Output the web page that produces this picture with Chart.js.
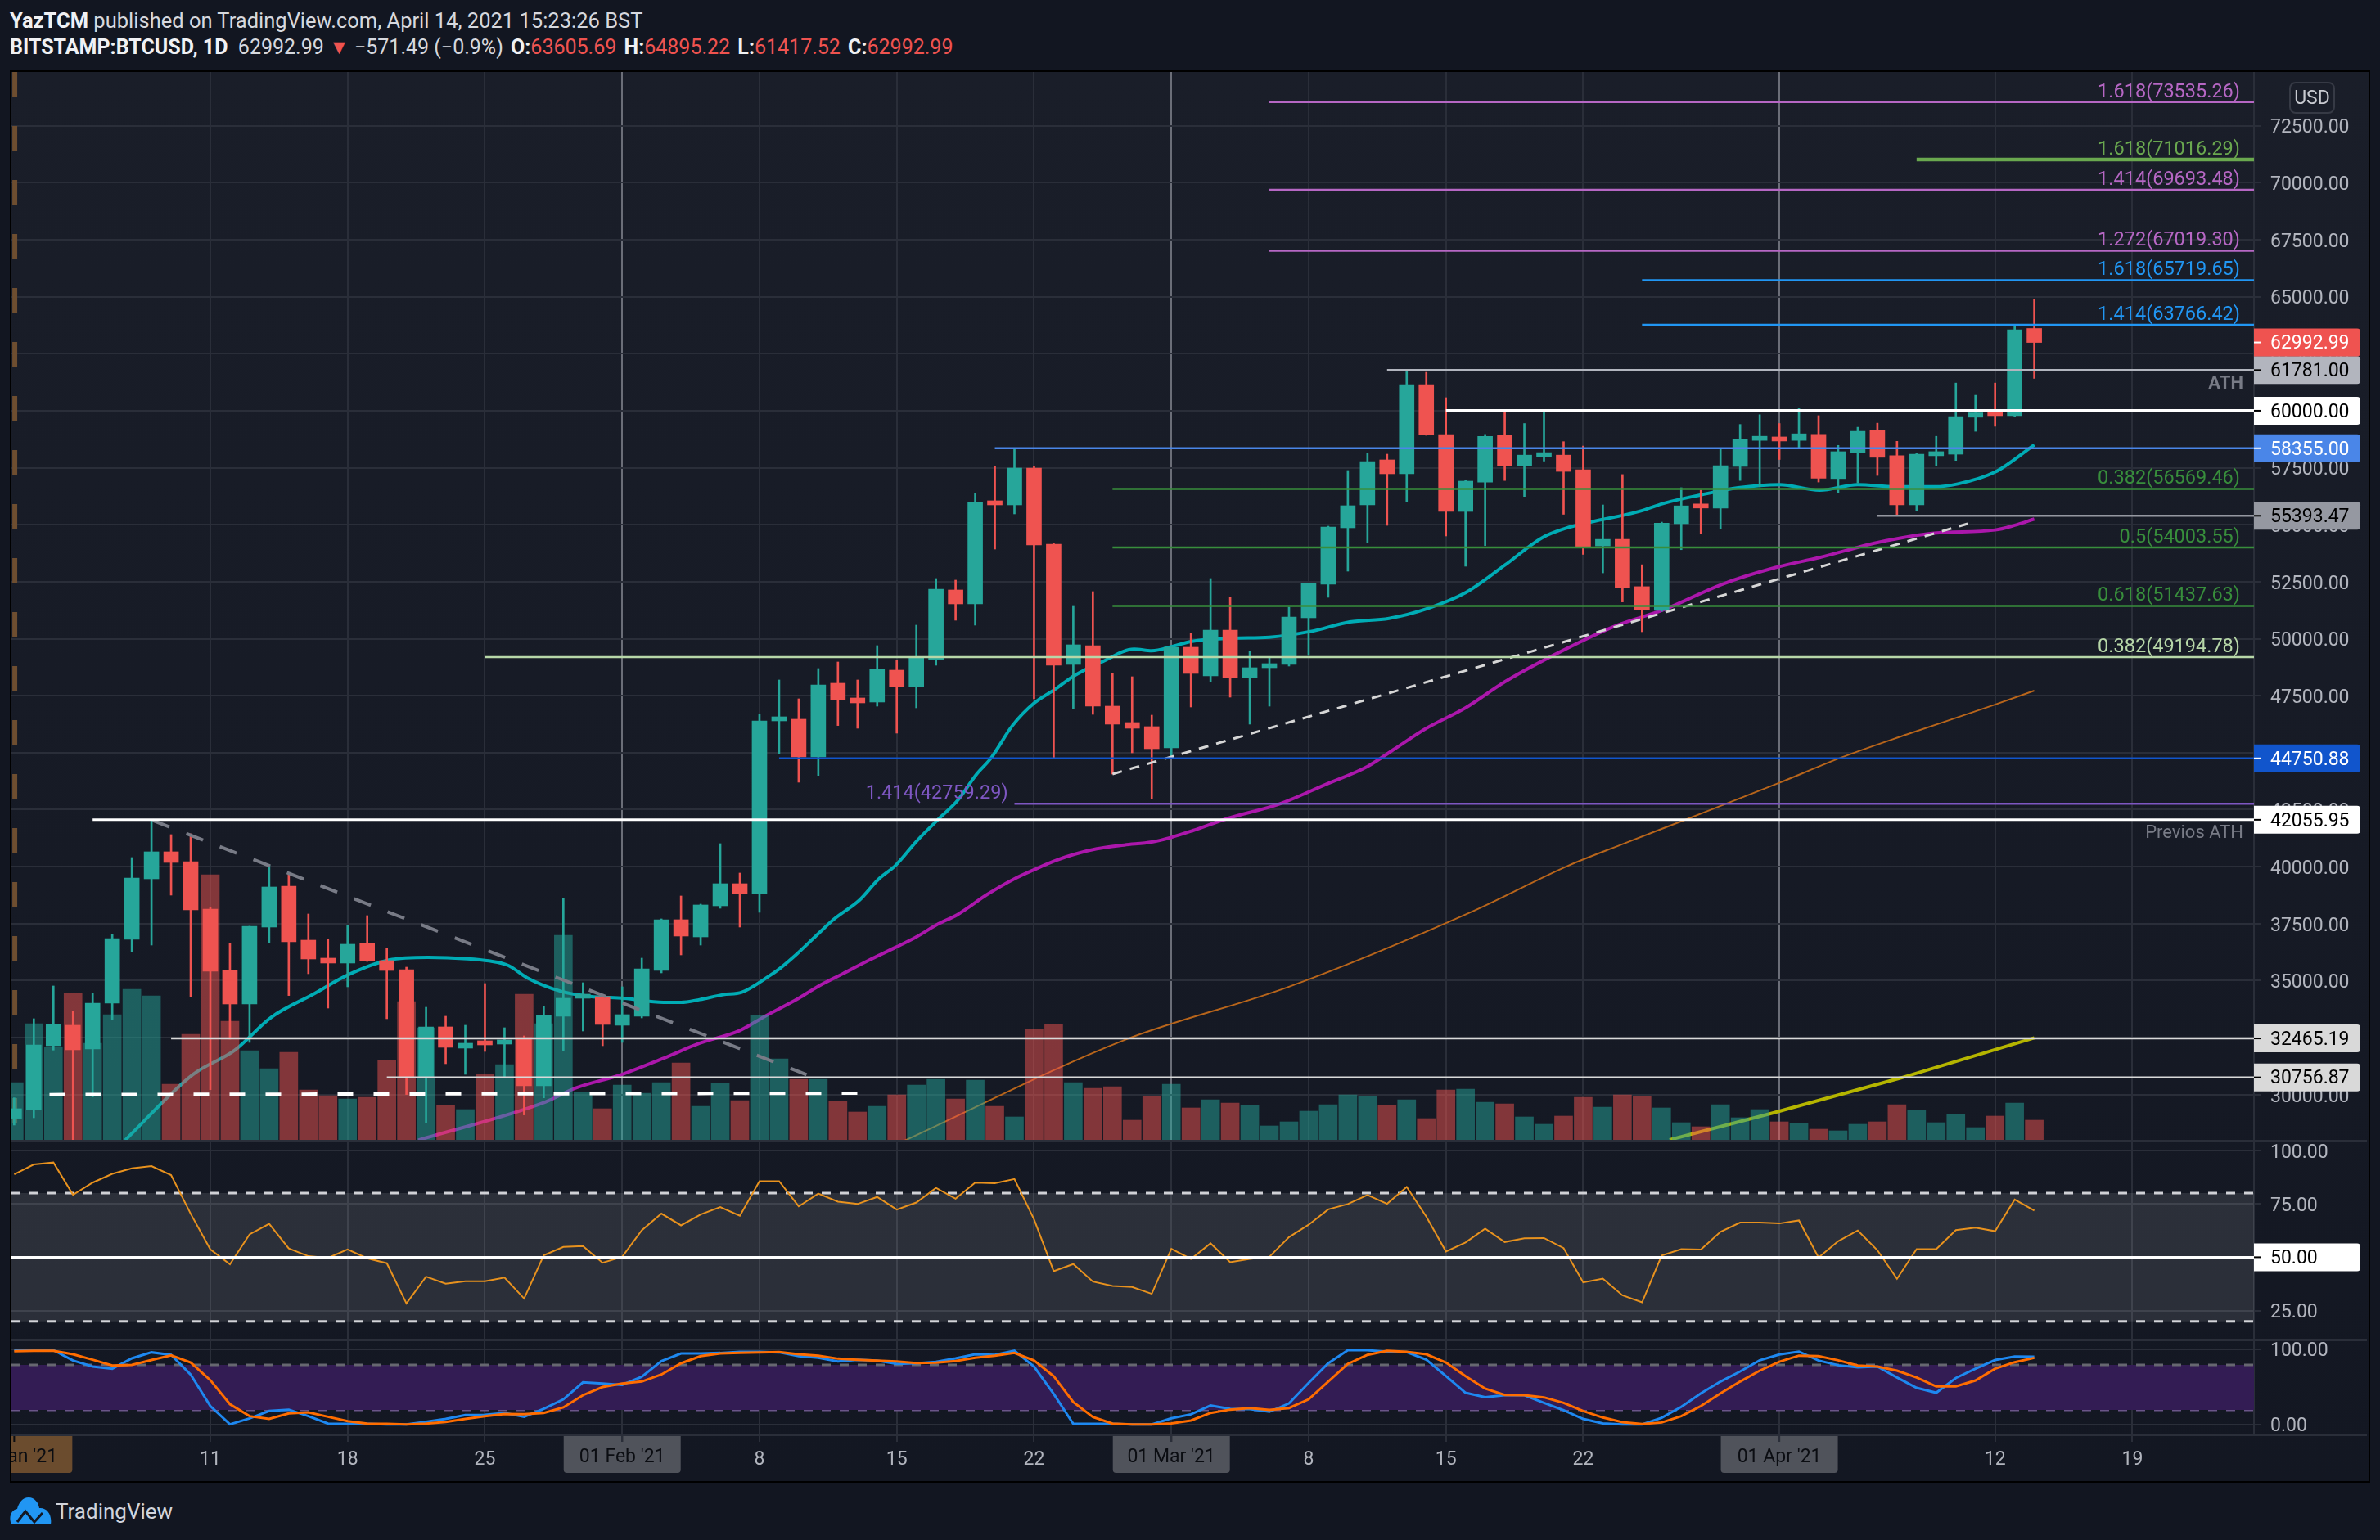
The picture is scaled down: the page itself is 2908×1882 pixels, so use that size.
<!DOCTYPE html>
<html>
<head>
<meta charset="utf-8">
<title>BTCUSD daily</title>
<script src="https://cdn.jsdelivr.net/npm/chart.js@4"></script>
<style>
  html, body { margin: 0; padding: 0; background: #121621; width: 2908px; height: 1882px; overflow: hidden;
               font-family: Roboto, sans-serif; color: #d6d8de; }
  #frame { position: absolute; left: 12px; top: 86px; width: 2880px; height: 1722px; border: 2px solid #000;
           background: linear-gradient(#1a1e29, #131722); }
  canvas { position: absolute; left: 14px; }
  .rule { position: absolute; left: 14px; width: 2878px; height: 3px; background: #2a2e39; }
  .head { position: absolute; left: 12px; font-size: 25.5px; white-space: nowrap; line-height: 30px; }
  .head b { color: #f0f1f4; font-weight: 700; }
  .head i { font-style: normal; color: #ef5350; }
  .head.stats { font-size: 25px; }
  .head.stats b { margin-left: 3px; }
  #usd { position: absolute; left: 2797px; top: 100px; width: 52px; height: 35px; line-height: 35px; text-align: center;
         border: 2px solid #363a45; border-radius: 8px; font-size: 23px; color: #c8cad0; }
  #brand { position: absolute; left: 68px; top: 1832px; font-size: 26px; line-height: 30px; color: #d1d4dc; }
</style>
</head>
<body>
<div id="frame"></div>
<canvas id="mainPane" width="2878" height="1306" style="top:88px"></canvas>
<canvas id="rsiPane" width="2878" height="243" style="top:1394px"></canvas>
<canvas id="stochPane" width="2878" height="171" style="top:1637px"></canvas>
<div class="rule" style="top:1393px"></div>
<div class="rule" style="top:1636px"></div>
<div class="rule" style="top:1752px"></div>

<div class="head" style="top:10px"><b>YazTCM</b> published on TradingView.com, April 14, 2021 15:23:26 BST</div>
<div class="head stats" style="top:43px"><b style="margin-left:0">BITSTAMP:BTCUSD, 1D</b>&nbsp; 62992.99 <i>▼</i> −571.49 (−0.9%) <b>O:</b><i>63605.69</i> <b>H:</b><i>64895.22</i> <b>L:</b><i>61417.52</i> <b>C:</b><i>62992.99</i></div>
<div id="usd">USD</div>
<svg style="position:absolute;left:12px;top:1830px" width="52" height="33" viewBox="0 0 52 33">
  <path d="M2 33 C-2 24 2 15 9 14 C11 6 16 0 23 0 C30 0 35 6 36 13 C45 12 52 21 50 33 Z" fill="#2196f3"/>
  <path d="M9 30 L19 17 L30 30 L40 19" fill="none" stroke="#131722" stroke-width="3"/>
</svg>
<div id="brand">TradingView</div>

<script>
// Jan 1 2021 is day 0, every array below is indexed by day
const opens = [28963,29346,32145,33043,32002,34012,36811,39467,40652,40221,38139,35447,33976,37350,39144,36775,35986,35771,36632,35878,35483,30758,32971,32038,32289,32217,32504,30387,33438,34227,34299,33043,33438,35447,37673,36919,38283,39252,38821,46395,46467,44816,48046,47400,47221,48620,47903,49087,52138,51528,55978,55871,57486,54148,48872,49697,47041,46323,46144,45211,49625,48369,50379,48297,48728,48872,50918,52389,54866,55871,57845,57235,61147,58957,55583,56873,58919,57587,57985,58054,57408,54071,54359,52285,51241,55046,55801,55733,57559,58700,58782,58700,58961,57024,58164,59139,58027,55870,58027,58095,59716,59908,59785,63605.69];
const highs = [29860,33330,34766,33653,34466,37027,40401,42004,41406,41441,38235,36632,37386,40078,39695,37924,36811,37421,37852,36417,35591,33832,33438,33043,34873,32935,32576,33868,38606,34909,34347,34730,35986,37709,38714,38355,41011,39719,46670,48190,47364,48692,48979,48190,49697,49051,50595,52640,52569,56373,57558,58347,57558,54184,51456,52066,48477,48333,46646,49661,50236,52640,51815,49446,49159,51384,52425,54937,57378,58132,58096,61790,61685,60573,56935,58961,59922,59441,59963,58645,58452,55870,57202,53246,55115,56625,56516,58342,59400,59826,59441,60101,59785,58480,59277,59455,58658,58136,58878,61213,60678,61213,63727,64895.22];
const lows = [28664,28987,31954,27900,29896,33306,36285,36560,38750,34275,30219,32433,32289,36680,34347,35304,33796,34730,35842,33330,30004,28748,31356,30889,31894,30758,29107,29860,31942,32791,32145,32289,33366,35340,36129,36560,38175,37350,37996,44971,43703,44002,46192,46072,47041,45857,46969,48836,50810,50595,53932,55476,47364,44780,46934,46682,44062,44995,42985,44756,47005,48118,47436,46252,47041,48800,49267,51815,52963,54220,54973,56014,58921,54507,53179,54084,56941,56241,57793,55458,53700,52889,51612,50307,51200,53906,54620,54826,56941,56667,57862,58370,56873,56406,56832,57161,55417,55623,57587,57821,59098,59318,59744,61417.52];
const closes = [29382,32181,33079,31966,34012,36847,39503,40652,40185,38103,35412,33976,37386,39108,36704,35950,35771,36596,35878,35447,30758,32971,32074,32253,32181,32397,30387,33473,34227,34299,33079,33509,35519,37673,36955,38319,39252,38821,46395,46503,44816,47974,47328,47185,48656,47903,49195,52174,51528,55978,55871,57486,54112,48836,49733,47041,46252,46072,45175,49625,48477,50379,48297,48728,48872,50953,52425,54902,55835,57773,57235,61147,58957,55583,56912,58878,57587,58054,58136,57340,54043,54359,52244,51268,55073,55829,55733,57587,58741,58782,58672,58988,57038,58205,59098,57958,55870,58095,58082,59744,59908,59785,63548,62992.99];
// volume, in hundreds of BTC-ish units
const volumes = [71,143,114,180,119,154,185,177,69,130,325,146,110,88,108,62,55,51,53,98,170,138,43,38,81,93,179,143,251,59,39,68,58,71,95,42,70,49,153,100,75,75,48,35,42,56,68,75,51,74,42,29,136,142,71,64,66,25,54,69,40,50,46,43,18,23,36,44,56,54,43,50,27,62,63,47,45,29,20,30,53,41,56,54,40,22,17,44,28,38,23,21,14,12,20,23,44,37,22,32,16,30,46,25];

const ma20Days = [5.66,9.1,11.25,13.1,15.25,17,19.1,21.1,23.1,24.2,25.2,26.15,27.9,29.35,31.1,33.1,34,34.95,36.15,37.1,38.5,39.05,39.9,40.9,41.8,43.1,44.05,44.95,46,47.1,48.1,49.05,49.8,50.9,52,53.05,54.1,55.5,57.1,58,59.05,60,62.1,64,66.1,68.1,70.1,72.1,74,76,77.9,79.1,82.9,84.1,86,87.9,90,92.05,94,95.9,97.9,99.1,101,103];
const ma20Prices = [28005,30877,31954,33390,34407,35244,35902,36022,35962,35866,35663,35125,34526,34311,34227,34048,34048,34168,34383,34490,35208,35543,36166,36979,37697,38534,39432,40066,41107,42064,42901,44038,44756,46192,47173,47771,48405,49003,49542,49470,49661,49877,50020,50068,50319,50738,50893,51336,52018,53225,54428,54840,55595,55939,56310,56625,56763,56515,56763,56667,56667,56790,57312,58507];
const ma50Days = [20.6,27.1,28.6,30.95,33.1,34.95,37,38.3,40,40.9,42.25,43.6,44.95,46,47.1,48.1,49.6,51,52.05,53.1,54.05,55.2,56.6,58,59,60.1,61.9,64.5,66.9,69,70.4,72,74,76,78.8,81.7,84.1,87.1,89.8,92.05,95,97.9,101,102,103];
const ma50Prices = [28005,29681,30279,30877,31595,32253,32815,33449,34227,34706,35304,35902,36464,36919,37481,37900,38774,39468,39886,40269,40544,40784,40951,41083,41286,41585,42124,42746,43619,44397,45175,46072,46969,48109,49414,50581,51268,52395,53123,53562,54222,54634,54771,54977,55252];
const ma200Days = [45.4,56.6,65,74.4,79.2,82,85.4,90,93.2,96.5,100.9,103];
const ma200Prices = [27981,32392,34733,38056,40030,40987,42124,43679,44800,45800,47079,47724];
const ma100Days = [84.4,89.7,96.2,103];
const ma100Prices = [28018,29203,30734,32493];

const levelPrices = [73535.26,71016.29,69693.48,67019.30,65719.65,63766.42,61781,60000,58355,56569.46,55393.47,54003.55,51437.63,49194.78,44750.88,42759.29,42055.95,32465.19,30756.87];
const levelStartDays = [64,97,64,64,83,83,70,73,50,56,95,56,56,24,39,51,4,8,19];
const levelRatios = ['1.618','1.618','1.414','1.272','1.618','1.414','','','','0.382','','0.5','0.618','0.382','','','','',''];
const tagPrices = [61781,60000,58355,55393.47,44750.88,42055.95,32465.19,30756.87,62992.99];

const rsiValues = [88.8,93.4,94.3,79.2,84.9,89.0,91.6,92.6,88.4,70.3,53.7,46.7,60.7,65.6,54.1,50.5,49.7,53.7,49.5,47.2,28.4,40.9,37.6,38.8,38.8,40.5,30.7,50.9,54.8,55.2,47.4,50.2,62.6,70.4,64.9,70.0,73.5,69.4,85.6,85.6,73.8,79.8,76.0,74.9,78.2,72.3,75.6,82.4,77.4,84.9,84.6,86.6,67.7,43.5,46.8,38.6,36.6,36.1,32.9,53.9,49.2,56.5,47.7,49.2,50.2,59.4,65.2,72.4,74.9,79.1,75.0,82.9,69.0,52.7,56.9,63.4,57.1,58.9,59.0,54.3,38.2,40.0,32.2,28.9,50.8,53.8,53.6,61.9,66.2,66.2,65.8,67.2,49.9,57.5,62.5,53.3,39.9,53.8,53.8,62.7,63.8,62.2,77.0,71.8];
const stochK = [98.6,98.6,98.6,84.8,76.8,73.9,87.7,95.7,92.4,65.9,24.3,0,8.0,17.8,19.6,10.9,1.1,0.7,0.7,0,0,3.6,7.2,12.3,12.7,15.2,10.1,20.7,33.3,55.8,54.3,52.5,63.4,84.1,94.2,94.2,94.9,96.4,96.4,95.7,90.6,88.4,83.7,85.9,84.8,80.4,81.2,83.0,87.7,93.1,92.4,97.8,76.8,40.6,0.7,0.7,0.7,0,0,8.0,13.4,25.0,20.7,20.3,16.7,27.9,55.1,81.2,98.6,98.6,96.4,96.0,85.9,64.1,42.0,36.2,38.8,38.8,28.6,18.8,7.2,1.4,0,0,8.7,23.2,41.3,56.9,70.3,85.1,92.8,96.7,84.8,78.6,75.7,76.8,62.3,48.6,42.0,61.6,73.9,85.5,90.2,89.9];
const stochD = [97.1,97.8,97.8,93.1,85.9,78.3,79.0,85.5,91.7,82.2,58.7,26.8,10.9,7.2,14.5,15.9,10.1,4.3,1.1,0.7,0,1.1,3.3,7.2,10.9,13.8,13.4,15.2,22.5,38.8,49.6,54.3,56.9,66.3,81.2,90.6,94.2,94.9,95.7,96.0,93.1,91.3,87.3,85.9,84.8,83.7,81.5,81.9,84.1,88.4,91.3,94.9,84.8,64.1,29.7,9.8,1.1,0,0,1.4,5.1,15.2,19.6,21.7,19.2,21.7,33.3,56.9,80.4,92.4,97.8,96.4,93.1,82.2,64.1,47.5,39.1,38.8,35.9,28.6,17.8,9.1,2.9,0.4,2.5,10.9,24.3,41.3,56.9,71.4,83.3,91.3,90.6,85.1,78.3,76.8,71.4,62.3,50.4,50.4,58.3,73.9,82.6,88.4];

const priceTicks = [30000,32500,35000,37500,40000,42500,45000,47500,50000,52500,55000,57500,60000,62500,65000,67500,70000,72500];
const rsiTicks = [25,50,75,100];
const stochTicks = [0,100];
const tickDays = [0,10,17,24,31,38,45,52,59,66,73,80,90,101,108];
const tickLabels = ['','11','18','25','','8','15','22','','8','15','22','','12','19'];
const monthDays = [0,31,59,90];
const monthLabels = ["Jan '21","01 Feb '21","01 Mar '21","01 Apr '21"];

// styles, kept apart from the data
const UP = '#26a69a', DOWN = '#ef5350';
const FAINT = '#2a2e39';
const PURPLE = '#b667c4', BLUE = '#2196f3', GREEN = '#388e3c';
const levelColors = [PURPLE,'#6aa84f',PURPLE,PURPLE,BLUE,BLUE,'#b2b5be','#ffffff','#4a86e8',GREEN,'#9598a1',GREEN,GREEN,'#b7d7a8','#1155cc','#7e57c2','#ffffff','#d9d9d9','#d9d9d9'];
const levelWidths = [2.5,4.5,2.5,2.5,2.5,2.5,2.5,4,2.5,2.5,2.5,2.5,2.5,2.5,2.5,2.5,3,2.5,2.5];
const tagFills = ['#b2b5be','#ffffff','#4a86e8','#9598a1','#1155cc','#ffffff','#d9d9d9','#d9d9d9',DOWN];
const tagInk = ['#000','#000','#fff','#000','#fff','#000','#000','#000','#fff'];
const FONT = 'Roboto, sans-serif';
const X_MIN = -0.14, X_MAX = 114.2, AXIS_W = 138;

const days = opens.map((_, i) => i);
const candleColor = days.map(i => closes[i] >= opens[i] ? UP : DOWN);
const volumeColor = days.map(i => closes[i] >= opens[i] ? 'rgba(38,166,154,0.5)' : 'rgba(239,83,80,0.5)');
const zip = (xs, ys) => xs.map((x, i) => ({ x, y: ys[i] }));

function xAxis(bright) {
  return {
    type: 'linear', min: X_MIN, max: X_MAX, offset: false,
    afterBuildTicks: s => { s.ticks = tickDays.map(value => ({ value })); },
    afterFit: s => { s.height = 0; s.paddingLeft = s.paddingRight = 0; },
    border: { display: false },
    ticks: { display: false },
    grid: {
      offset: false, drawTicks: false, lineWidth: 2,
      color: c => {
        if (c.tick.value === 0) return 'transparent';
        return bright && monthDays.includes(c.tick.value) ? '#6b6e78' : FAINT;
      },
    },
  };
}

function yAxis(min, max, tickValues) {
  return {
    position: 'right', min, max,
    afterBuildTicks: s => { s.ticks = tickValues.map(value => ({ value })); },
    afterFit: s => { s.width = AXIS_W; s.paddingTop = s.paddingBottom = 0; },
    border: { color: FAINT, width: 2 },
    grid: { color: FAINT, lineWidth: 2, tickLength: 9 },
    ticks: { display: false },
  };
}

// Chart.js centres y tick text a few px too high for this look, so the labels are put in by hand
const axisLabels = {
  id: 'axisLabels',
  afterDraw(chart) {
    const { ctx, chartArea, scales } = chart;
    ctx.save();
    ctx.font = '23px ' + FONT;
    ctx.fillStyle = '#b2b5be';
    ctx.textAlign = 'left';
    ctx.textBaseline = 'middle';
    scales.y.ticks.forEach(t => {
      ctx.fillText(t.value.toFixed(2), chartArea.right + 20, scales.y.getPixelForValue(t.value) + 3);
    });
    ctx.restore();
  },
};

function line(data, color, width, order, extra) {
  return Object.assign({
    type: 'line', data, borderColor: color, borderWidth: width, order,
    pointRadius: 0, fill: false, tension: 0, yAxisID: 'y',
  }, extra);
}

// coloured price tag on the axis, same look for main and RSI pane
function drawTag(ctx, chart, y, text, fill, ink) {
  const left = chart.chartArea.right;
  ctx.fillStyle = fill;
  ctx.beginPath();
  ctx.roundRect(left, y - 17, 130, 34, [0, 4, 4, 0]);
  ctx.fill();
  ctx.fillStyle = ink;
  ctx.fillRect(left, y - 1, 9, 2);
  ctx.textAlign = 'left';
  ctx.textBaseline = 'middle';
  ctx.font = '23px ' + FONT;
  ctx.fillText(text, left + 20, y + 2);
}

const priceNotes = {
  id: 'priceNotes',
  afterDraw(chart) {
    const { ctx, chartArea, scales } = chart;
    const y = scales.y;
    ctx.save();
    ctx.font = '23.5px ' + FONT;
    ctx.textBaseline = 'middle';
    ctx.textAlign = 'right';
    levelPrices.forEach((p, i) => {
      if (!levelRatios[i]) return;
      ctx.fillStyle = levelColors[i];
      ctx.fillText(levelRatios[i] + '(' + p.toFixed(2) + ')', chartArea.right - 17, y.getPixelForValue(p) - 12);
    });
    ctx.fillStyle = levelColors[15];
    ctx.fillText('1.414(42759.29)', scales.x.getPixelForValue(50.67), y.getPixelForValue(42759.29) - 12);
    ctx.font = '22px ' + FONT;
    ctx.fillStyle = '#787b86';
    ctx.fillText('Previos ATH', chartArea.right - 13, y.getPixelForValue(41446));
    ctx.font = 'bold 22px ' + FONT;
    ctx.fillText('ATH', chartArea.right - 13, y.getPixelForValue(61147));
    tagPrices.forEach((p, i) => drawTag(ctx, chart, y.getPixelForValue(p), p.toFixed(2), tagFills[i], tagInk[i]));
    ctx.restore();
  },
};

new Chart(document.getElementById('mainPane'), {
  type: 'bar',
  data: {
    datasets: [
      line([{ x: 0.03, y: 74858 }, { x: 0.03, y: 27981 }], '#6e4e30', 6, 50, { borderDash: [30, 36] }),
      line(zip(ma200Days, ma200Prices), '#b8651b', 2, 40, { cubicInterpolationMode: 'monotone' }),
      line(zip(ma100Days, ma100Prices), '#b5b500', 4, 40),
      line(zip(ma50Days, ma50Prices), '#ab17ab', 4, 40, { cubicInterpolationMode: 'monotone' }),
      line(zip(ma20Days, ma20Prices), '#00acb5', 4, 40, { cubicInterpolationMode: 'monotone' }),
      { type: 'bar', yAxisID: 'yVol', order: 30, grouped: false, barThickness: 22,
        data: zip(days, volumes), backgroundColor: volumeColor },
      { type: 'bar', yAxisID: 'y', order: 21, grouped: false, barThickness: 2,
        data: days.map(i => ({ x: i, y: [lows[i], highs[i]] })), backgroundColor: candleColor },
      { type: 'bar', yAxisID: 'y', order: 20, grouped: false, barThickness: 18, minBarLength: 5,
        data: days.map(i => ({ x: i, y: [opens[i], closes[i]] })), backgroundColor: candleColor },
      // hand drawn trend lines
      line([{ x: 7.06, y: 42028 }, { x: 40.4, y: 30877 }], '#787b86', 4, 12, { borderDash: [22, 22] }),
      line([{ x: 1.8, y: 30004 }, { x: 43, y: 30060 }], '#ffffff', 4, 12, { borderDash: [19, 25] }),
      line([{ x: 56, y: 44062 }, { x: 99.6, y: 55046 }], '#d6d6d6', 3, 12, { borderDash: [12, 10] }),
      ...levelPrices.map((p, i) => line([{ x: levelStartDays[i], y: p }, { x: X_MAX, y: p }], levelColors[i], levelWidths[i], 10)),
    ],
  },
  options: {
    responsive: false, animation: false, devicePixelRatio: 1,
    layout: { padding: 0 },
    plugins: { legend: { display: false }, tooltip: { enabled: false } },
    scales: {
      x: xAxis(true),
      y: yAxis(27981, 74858, priceTicks),
      yVol: { display: false, min: 0, max: 1306 },
    },
  },
  plugins: [axisLabels, priceNotes],
});

new Chart(document.getElementById('rsiPane'), {
  type: 'line',
  data: {
    datasets: [
      line([{ x: X_MIN, y: 80 }, { x: X_MAX, y: 80 }], '#d0d1d6', 3, 30, { borderDash: [11, 11], fill: '+1', backgroundColor: 'rgba(255,255,255,0.1)' }),
      line([{ x: X_MIN, y: 20 }, { x: X_MAX, y: 20 }], '#d0d1d6', 3, 30, { borderDash: [11, 11] }),
      line(zip(days, rsiValues), '#e8921e', 2, 20),
      line([{ x: X_MIN, y: 50 }, { x: X_MAX, y: 50 }], '#ffffff', 3, 10),
    ],
  },
  options: {
    responsive: false, animation: false, devicePixelRatio: 1,
    layout: { padding: 0 },
    plugins: { legend: { display: false }, tooltip: { enabled: false } },
    scales: { x: xAxis(false), y: yAxis(11.5, 104.5, rsiTicks) },
  },
  plugins: [axisLabels, {
    id: 'rsiTag',
    afterDraw(chart) {
      const y = chart.scales.y.getPixelForValue(50);
      chart.ctx.save();
      drawTag(chart.ctx, chart, y, '50.00', '#ffffff', '#000');
      chart.ctx.restore();
    },
  }],
});

const stochX = xAxis(false);
stochX.afterFit = s => { s.height = 55; s.paddingLeft = s.paddingRight = 0; };
stochX.grid.drawTicks = true;
stochX.grid.tickLength = 9;
stochX.ticks = {
  display: true, autoSkip: false, maxRotation: 0, padding: 8, color: '#b2b5be',
  font: { family: FONT, size: 23 },
  callback: (v, i) => tickLabels[i],
};

new Chart(document.getElementById('stochPane'), {
  type: 'line',
  data: {
    datasets: [
      line([{ x: X_MIN, y: 79 }, { x: X_MAX, y: 79 }], '#666770', 3, 30, { borderDash: [11, 11], fill: '+1', backgroundColor: '#331c54' }),
      line([{ x: X_MIN, y: 19.2 }, { x: X_MAX, y: 19.2 }], '#6a5588', 3, 30, { borderDash: [11, 11] }),
      line(zip(days, stochK), '#1e88f0', 3, 20),
      line(zip(days, stochD), '#ff6d00', 3, 10),
    ],
  },
  options: {
    responsive: false, animation: false, devicePixelRatio: 1,
    layout: { padding: 0 },
    plugins: { legend: { display: false }, tooltip: { enabled: false } },
    scales: { x: stochX, y: yAxis(-13.4, 112.7, stochTicks) },
  },
  plugins: [axisLabels, {
    id: 'monthTags',
    beforeDraw(chart) {
      const { ctx, chartArea, scales } = chart;
      ctx.save();
      ctx.font = '23px ' + FONT;
      ctx.textAlign = 'center';
      ctx.textBaseline = 'middle';
      monthDays.forEach((d, i) => {
        const x = scales.x.getPixelForValue(d);
        const cx = i === 0 ? x + 16 : x;     // first label is pushed right of the pane edge
        const w = i === 0 ? 110 : 143;
        ctx.fillStyle = i === 0 ? '#6b4c2e' : '#50535b';
        ctx.beginPath();
        ctx.roundRect(cx - w / 2, chartArea.bottom, w, 47, [0, 0, 4, 4]);
        ctx.fill();
        ctx.fillStyle = '#0b0d12';
        ctx.fillRect(x - 1, chartArea.bottom, 2, 9);
        ctx.fillText(monthLabels[i], cx, chartArea.bottom + 28);
      });
      ctx.restore();
    },
  }],
});
</script>
</body>
</html>
